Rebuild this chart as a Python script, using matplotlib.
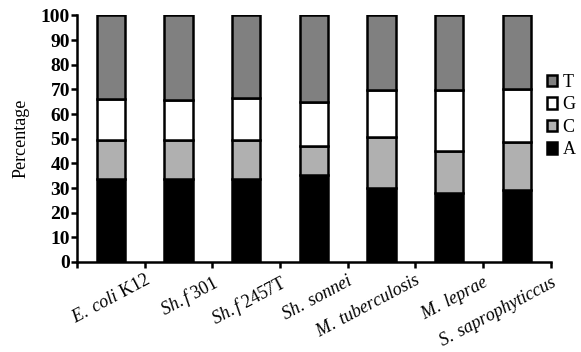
import matplotlib
matplotlib.use("Agg")
import matplotlib.pyplot as plt
from matplotlib.patches import Patch
import numpy as np

plt.rcParams['font.family'] = 'serif'
plt.rcParams['font.serif'] = ['Liberation Serif', 'DejaVu Serif']
plt.rcParams['mathtext.fontset'] = 'custom'
plt.rcParams['mathtext.rm'] = 'Liberation Serif'
plt.rcParams['mathtext.it'] = 'Liberation Serif:italic'

organisms = [r'$\mathit{E.\ coli}$ K12', r'$\mathit{Sh.f}$ 301', r'$\mathit{Sh.f}$ 2457T',
             r'$\mathit{Sh.\ sonnei}$', r'$\mathit{M.\ tuberculosis}$', r'$\mathit{M.\ leprae}$',
             r'$\mathit{S.\ saprophyticcus}$']
A = [33.5, 33.5, 33.5, 35.3, 30.1, 27.9, 29.2]
C = [16.0, 16.0, 16.0, 11.9, 20.5, 17.3, 19.6]
G = [16.6, 16.2, 17.0, 17.6, 19.2, 24.6, 21.4]
T = [33.9, 34.3, 33.5, 35.2, 30.2, 30.2, 29.8]

colors = {'A': 'black', 'C': '#b0b0b0', 'G': 'white', 'T': '#808080'}

fig = plt.figure(figsize=(5.81, 3.52), dpi=100)
ax = fig.add_axes([0.1325, 0.2557, 0.8155, 0.7003])

x = np.arange(len(organisms))
bottom = np.zeros(len(organisms))
for name, vals in [('A', A), ('C', C), ('G', G), ('T', T)]:
    ax.bar(x, vals, 0.42, bottom=bottom, color=colors[name], edgecolor='black', linewidth=1.8)
    bottom += np.array(vals)

ax.set_xlim(-0.5, 6.5)
ax.set_ylim(0, 100)
ax.set_yticks(range(0, 101, 10))
ax.set_yticklabels([str(v) for v in range(0, 101, 10)], fontweight='bold', fontsize=14)
ax.set_xticks(np.arange(-0.5, 7, 1))
ax.set_xticklabels([''] + organisms, rotation=28, ha='right', rotation_mode='anchor', fontsize=13)
ax.tick_params(axis='both', direction='out', length=4, width=1.8, pad=3)
ax.tick_params(axis='y', pad=1)
for s in ['top', 'right']:
    ax.spines[s].set_visible(False)
for s in ['left', 'bottom']:
    ax.spines[s].set_linewidth(1.8)
ax.set_ylabel('Percentage', fontsize=13, labelpad=8)

handles = [Patch(facecolor=colors[n], edgecolor='black', linewidth=1.8, label=n) for n in ['T', 'G', 'C', 'A']]
fig.legend(handles=handles, loc='upper left', bbox_to_anchor=(0.942, 0.79), frameon=False,
           handlelength=0.55, handleheight=0.6, handletextpad=0.3, labelspacing=0.3,
           borderpad=0, borderaxespad=0, fontsize=13)

fig.savefig('out.png', dpi=100)
